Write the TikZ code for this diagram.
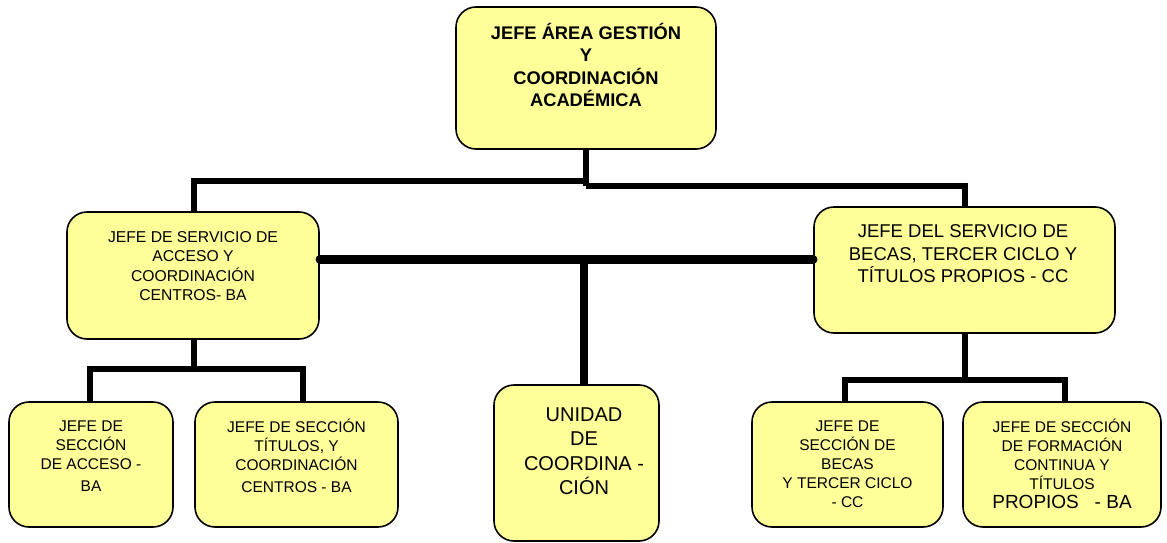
\documentclass[tikz,border=0pt]{standalone}
\usepackage{fontspec}
\setmainfont{Liberation Sans}
\definecolor{boxfill}{RGB}{255,255,153}
\begin{document}
\begin{tikzpicture}[x=1pt,y=-1pt,
  box/.style={draw=black,line width=1.6pt,fill=boxfill,rounded corners=20pt,inner sep=0pt},
  conn/.style={draw=black,line width=6pt},
  thick conn/.style={draw=black,line width=8.5pt,line cap=round},
  txt/.style={align=center,inner sep=0pt,text=black}]
\useasboundingbox (0,0) rectangle (1167,543);
% boxes
\node[box,minimum width=260pt,minimum height=142pt] (top) at (586,78) {};
\node[box,minimum width=252pt,minimum height=127pt] (ml) at (193,275.5) {};
\node[box,minimum width=301pt,minimum height=126pt] (mr) at (964.5,270) {};
\node[box,minimum width=165pt,minimum height=156pt] (un) at (576.5,463) {};
\node[box,minimum width=164pt,minimum height=125pt] (bl1) at (91,464.5) {};
\node[box,minimum width=203pt,minimum height=125pt] (bl2) at (296.5,464.5) {};
\node[box,minimum width=191pt,minimum height=125pt] (br1) at (847.5,464.5) {};
\node[box,minimum width=198pt,minimum height=125pt] (br2) at (1062,464.5) {};
% texts
\node[txt,font=\fontsize{18.3}{22.2}\selectfont\bfseries] (ttop) at (586,65) {JEFE ÁREA GESTIÓN\\Y\\COORDINACIÓN\\ACADÉMICA};
\node[txt,font=\fontsize{15.7}{19.5}\selectfont] (tml) at (193,266) {JEFE DE SERVICIO DE\\ACCESO Y\\COORDINACIÓN\\CENTROS- BA};
\node[txt,font=\fontsize{18.5}{22.5}\selectfont] (tmr) at (963,254) {JEFE DEL SERVICIO DE\\BECAS, TERCER CICLO Y\\TÍTULOS PROPIOS - CC};
\node[txt,font=\fontsize{20}{24.5}\selectfont] (tun) at (584,451) {UNIDAD\\DE\\COORDINA -\\CIÓN};
\node[txt,font=\fontsize{15.5}{19}\selectfont] (tbl1) at (91,456) {JEFE DE\\SECCIÓN\\DE ACCESO -\\[3pt]BA};
\node[txt,font=\fontsize{15.5}{19}\selectfont] (tbl2) at (296.5,456) {JEFE DE SECCIÓN\\TÍTULOS, Y\\COORDINACIÓN\\[3pt]CENTROS - BA};
\node[txt,font=\fontsize{15.5}{19}\selectfont] (tbr1) at (847.5,464) {JEFE DE\\SECCIÓN DE\\BECAS\\Y TERCER CICLO\\- CC};
\node[txt,font=\fontsize{15.5}{19}\selectfont] (tbr2) at (1062,464) {JEFE DE SECCIÓN\\DE FORMACIÓN\\CONTINUA Y\\TÍTULOS\\{\fontsize{19}{19}\selectfont PROPIOS\ \ \ - BA}};
% junction coordinates
\coordinate (j1) at (586,181);
\coordinate (j1r) at (586,186);
\coordinate (j2) at (584,259.5);
\coordinate (jl) at (194,369);
\coordinate (jl1) at (90,369);
\coordinate (jl2) at (303,369);
\coordinate (jr) at (964.5,379.5);
\coordinate (jr1) at (845,379.5);
\coordinate (jr2) at (1065,379.5);
% connectors
\draw[conn] (top.south) -- (j1r);
\draw[conn] (j1) -- (j1 -| jl) -- (jl |- ml.north);
\draw[conn] (j1r) -- (j1r -| mr.north) -- (mr.north);
\draw[thick conn] (ml.east |- j2) -- (mr.west |- j2);
\draw[draw=black,line width=7.5pt] (j2) -- (j2 |- un.north);
\draw[conn] (ml.south -| jl) -- (jl);
\draw[conn,line cap=rect] (jl1) -- (jl2);
\draw[conn] (jl1) -- (jl1 |- bl1.north);
\draw[conn] (jl2) -- (jl2 |- bl2.north);
\draw[conn] (mr.south -| jr) -- (jr);
\draw[conn,line cap=rect] (jr1) -- (jr2);
\draw[conn] (jr1) -- (jr1 |- br1.north);
\draw[conn] (jr2) -- (jr2 |- br2.north);
\end{tikzpicture}
\end{document}
